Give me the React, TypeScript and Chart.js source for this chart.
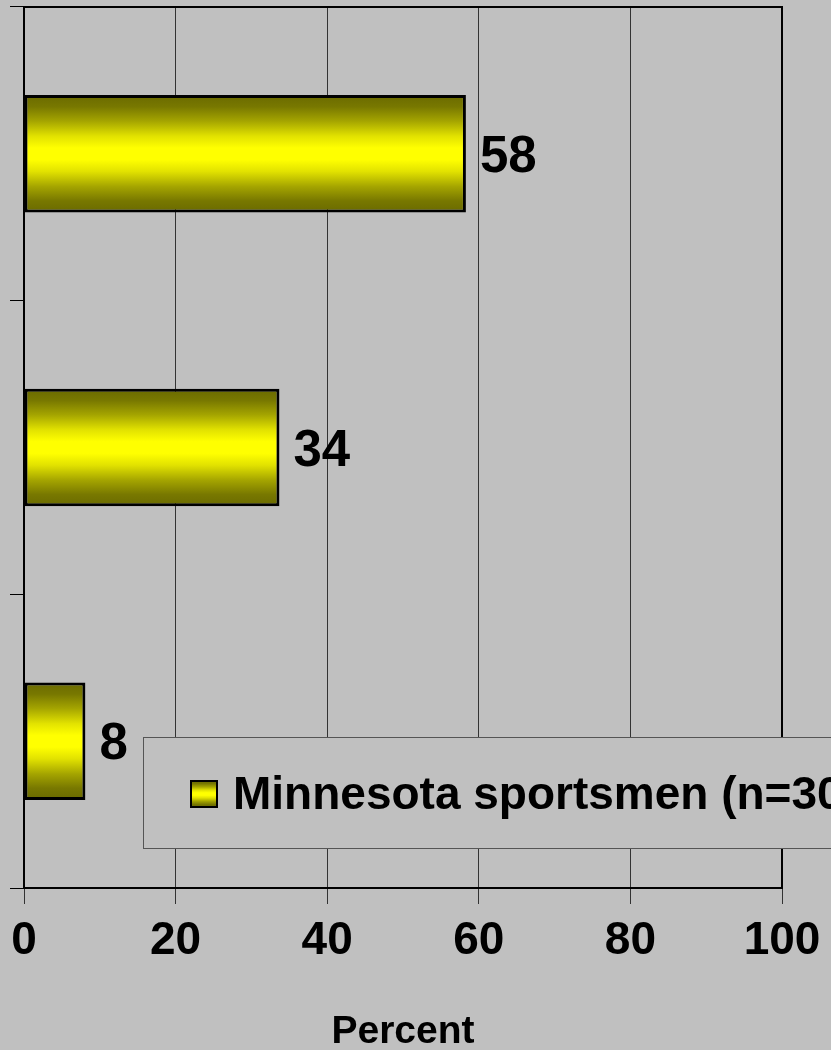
import { useEffect, useRef } from 'react';
import { Chart, registerables } from 'chart.js';

Chart.register(...registerables);

const categories = ['Group 1', 'Group 2', 'Group 3'];
const seriesLabel = 'Minnesota sportsmen (n=304)';
const percentValues = [58.3, 33.7, 8.1];
const valueLabels = ['58', '34', '8'];
const xTickValues = [0, 20, 40, 60, 80, 100];
const axisTitle = 'Percent';

const FONT = '"Liberation Sans", Arial, Helvetica, sans-serif';

function yellowGradient(ctx: CanvasRenderingContext2D, top: number, bottom: number) {
  const g = ctx.createLinearGradient(0, top, 0, bottom);
  g.addColorStop(0, '#6a6a00');
  g.addColorStop(0.1, '#787800');
  g.addColorStop(0.22, '#a4a400');
  g.addColorStop(0.35, '#e2e200');
  g.addColorStop(0.45, '#ffff00');
  g.addColorStop(0.55, '#ffff00');
  g.addColorStop(0.65, '#e2e200');
  g.addColorStop(0.78, '#a4a400');
  g.addColorStop(0.9, '#787800');
  g.addColorStop(1, '#6a6a00');
  return g;
}

const gradientPlugin = {
  id: 'barGradient',
  beforeDatasetsDraw(chart: any) {
    const meta = chart.getDatasetMeta(0);
    meta.data.forEach((el: any) => {
      const { y, height } = el.getProps(['y', 'height'], true);
      el.options.backgroundColor = yellowGradient(chart.ctx, y - height / 2, y + height / 2);
    });
  },
};

const labelPlugin = {
  id: 'valueLabels',
  afterDatasetsDraw(chart: any) {
    const ctx = chart.ctx as CanvasRenderingContext2D;
    const meta = chart.getDatasetMeta(0);
    const size = 51;
    ctx.save();
    ctx.font = `bold ${size}px ${FONT}`;
    ctx.fillStyle = '#000';
    ctx.textAlign = 'left';
    ctx.textBaseline = 'alphabetic';
    meta.data.forEach((el: any, i: number) => {
      const { x, y } = el.getProps(['x', 'y'], true);
      ctx.fillText(valueLabels[i], x + 14, y + size * 0.716 / 2);
    });
    ctx.restore();
  },
};

const framePlugin = {
  id: 'frameAndLegend',
  afterDraw(chart: any) {
    const ctx = chart.ctx as CanvasRenderingContext2D;
    const { left, top, right, bottom } = chart.chartArea;
    ctx.save();
    ctx.strokeStyle = '#000';
    ctx.lineWidth = 2;
    ctx.strokeRect(left, top, right - left, bottom - top);

    // legend box
    const lx = 143, ly = 737, lw = 760, lh = 111;
    ctx.fillStyle = '#c0c0c0';
    ctx.fillRect(lx, ly, lw, lh);
    ctx.strokeStyle = '#555';
    ctx.lineWidth = 1;
    ctx.strokeRect(lx + 0.5, ly + 0.5, lw, lh);

    const sx = 191, sy = 781, ss = 26;
    ctx.fillStyle = yellowGradient(ctx, sy, sy + ss);
    ctx.fillRect(sx, sy, ss, ss);
    ctx.strokeStyle = '#000';
    ctx.lineWidth = 2;
    ctx.strokeRect(sx, sy, ss, ss);

    ctx.font = `bold 46px ${FONT}`;
    ctx.fillStyle = '#000';
    ctx.textAlign = 'left';
    ctx.textBaseline = 'alphabetic';
    ctx.fillText(chart.data.datasets[0].label, 233, 809);
    ctx.restore();
  },
};

export default function App() {
  const ref = useRef<HTMLCanvasElement | null>(null);

  useEffect(() => {
    if (!ref.current) return;
    const chart = new Chart(ref.current, {
      type: 'bar',
      data: {
        labels: categories,
        datasets: [
          {
            label: seriesLabel,
            data: percentValues,
            backgroundColor: () => '#ffff00',
            borderColor: '#000',
            borderWidth: 3,
            borderSkipped: false,
            categoryPercentage: 1,
            barPercentage: 0.4,
          },
        ],
      },
      options: {
        indexAxis: 'y',
        responsive: false,
        animation: false,
        devicePixelRatio: 1,
        layout: { padding: { top: 7, right: 49, left: 0, bottom: 0 } },
        plugins: {
          legend: { display: false },
          tooltip: { enabled: false },
        },
        scales: {
          x: {
            type: 'linear',
            min: xTickValues[0],
            max: xTickValues[xTickValues.length - 1],
            afterBuildTicks: (scale: any) => {
              scale.ticks = xTickValues.map((v) => ({ value: v }));
            },
            afterFit: (scale: any) => {
              scale.height = 162;
              scale.paddingLeft = 0;
              scale.paddingRight = 0;
            },
            grid: {
              color: '#333',
              lineWidth: 1,
              drawOnChartArea: true,
              drawTicks: true,
              tickLength: 16,
            },
            border: { display: true, color: '#000', width: 2 },
            ticks: {
              color: '#000',
              padding: 14,
              font: { family: FONT, size: 46, weight: 'bold', lineHeight: 1 },
              maxRotation: 0,
              autoSkip: false,
            },
            title: {
              display: true,
              text: axisTitle,
              color: '#000',
              padding: { top: 0, bottom: -2 },
              font: { family: FONT, size: 39, weight: 'bold', lineHeight: 1 },
            },
          },
          y: {
            type: 'category',
            afterFit: (scale: any) => {
              scale.width = 24;
            },
            grid: {
              color: '#000',
              lineWidth: 1,
              offset: true,
              drawOnChartArea: false,
              drawTicks: true,
              tickLength: 14,
            },
            border: { display: true, color: '#000', width: 2 },
            ticks: { display: false },
          },
        },
      } as any,
      plugins: [gradientPlugin, labelPlugin, framePlugin],
    });
    return () => chart.destroy();
  }, []);

  return (
    <div
      style={{
        position: 'fixed',
        left: 0,
        top: 0,
        width: 831,
        height: 1050,
        background: '#c0c0c0',
        overflow: 'hidden',
      }}
    >
      <canvas ref={ref} width={831} height={1050} style={{ display: 'block' }} />
    </div>
  );
}
